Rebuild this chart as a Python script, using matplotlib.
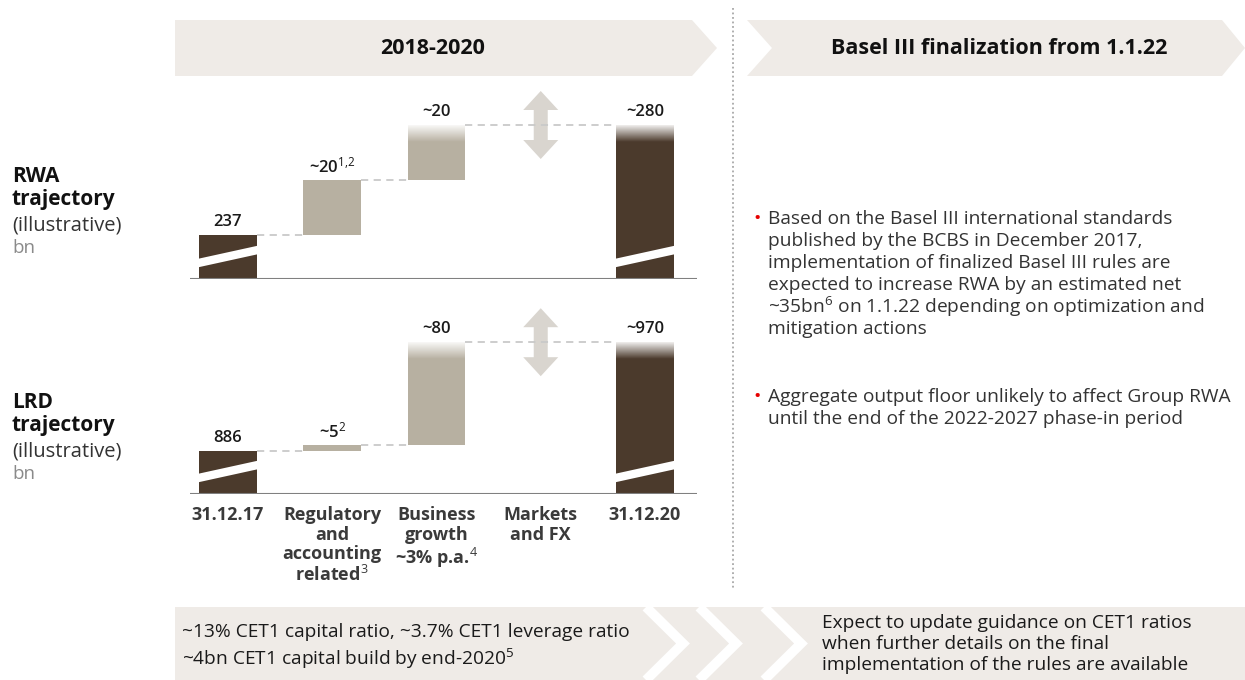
import matplotlib
matplotlib.use('Agg')
import matplotlib.pyplot as plt
import matplotlib.patches as mpatches
import matplotlib.transforms as mtransforms
import numpy as np

plt.rcParams['font.family'] = ['Open Sans', 'DejaVu Sans']
plt.rcParams['mathtext.fontset'] = 'custom'
plt.rcParams['mathtext.rm'] = 'Open Sans'
plt.rcParams['mathtext.it'] = 'Open Sans:italic'
plt.rcParams['mathtext.bf'] = 'Open Sans:bold'

# data
categories = ['31.12.17', 'Regulatory\nand\naccounting\nrelated$^{3}$',
              'Business\ngrowth\n~3% p.a.$^{4}$', 'Markets\nand FX', '31.12.20']
rwa_start = 237
rwa_steps = [20, 20]
rwa_labels = ['237', '~20$^{1{,}2}$', '~20', '~280']
lrd_start = 886
lrd_steps = [5, 80]
lrd_labels = ['886', '~5$^{2}$', '~80', '~970']

bullets = [
    ['Based on the Basel III international standards',
     'published by the BCBS in December 2017,',
     'implementation of finalized Basel III rules are',
     'expected to increase RWA by an estimated net',
     '~35bn$^{6}$ on 1.1.22 depending on optimization and',
     'mitigation actions'],
    ['Aggregate output floor unlikely to affect Group RWA',
     'until the end of the 2022-2027 phase-in period'],
]
bottom_left = ['~13% CET1 capital ratio, ~3.7% CET1 leverage ratio',
               '~4bn CET1 capital build by end-2020$^{5}$']
bottom_right = ['Expect to update guidance on CET1 ratios',
                'when further details on the final',
                'implementation of the rules are available']

DARK = '#4b3a2c'
TAUPE = '#b7b0a1'
BAND = '#efebe7'
W, H = 1245, 680

fig = plt.figure(figsize=(W / 100, H / 100), dpi=100)

# background axes in pixel coordinates
bg = fig.add_axes([0, 0, 1, 1])
bg.set_xlim(0, W)
bg.set_ylim(H, 0)
bg.axis('off')

# header chevrons
bg.add_patch(mpatches.Polygon([[175, 20], [692, 20], [717, 48], [692, 76], [175, 76]],
                              closed=True, color=BAND, lw=0))
bg.add_patch(mpatches.Polygon([[747, 20], [1222, 20], [1245, 48], [1222, 76], [747, 76], [772, 48]],
                              closed=True, color=BAND, lw=0))
bg.text(433, 48, '2018-2020', ha='center', va='center', fontsize=15.5, fontweight='bold', color='#111111')
bg.text(999, 48, 'Basel III finalization from 1.1.22', ha='center', va='center',
        fontsize=15.5, fontweight='bold', color='#111111')

# separator
bg.plot([733, 733], [8, 588], color='#a8a8a8', lw=1.3, ls=(0, (1, 1.5)))

# bottom band with chevrons
bg.add_patch(mpatches.Rectangle((175, 607), W - 175, H - 607, color=BAND, lw=0))
for tip in [683, 736, 801]:
    bg.plot([tip - 37, tip, tip - 37], [607, 643.5, 680], color='white', lw=7,
            solid_joinstyle='miter', solid_capstyle='butt')
for i, line in enumerate(bottom_left):
    bg.text(182, 632 + 27 * i, line, ha='left', va='center', fontsize=13.8, color='#1a1a1a')
for i, line in enumerate(bottom_right):
    bg.text(822, 623 + 21 * i, line, ha='left', va='center', fontsize=13.8, color='#1a1a1a')

# left row titles
for top, name in [(177, 'RWA'), (403, 'LRD')]:
    bg.text(12, top, name, ha='left', va='center', fontsize=15, fontweight='bold', color='#111111')
    bg.text(12, top + 23, 'trajectory', ha='left', va='center', fontsize=15, fontweight='bold', color='#111111')
    bg.text(12, top + 48, '(illustrative)', ha='left', va='center', fontsize=14.5, color='#333333')
    bg.text(12, top + 71, 'bn', ha='left', va='center', fontsize=13.5, color='#8a8a8a')

# bullets on the right
ys = [219, 397]
for block, y0 in zip(bullets, ys):
    bg.text(753, y0, '\u2022', ha='left', va='center', fontsize=14, color='#e60000')
    for j, line in enumerate(block):
        bg.text(768, y0 + 22 * j, line, ha='left', va='center', fontsize=13.8, color='#333333')


def px_axes(left, top, right, bottom):
    a = fig.add_axes([left / W, 1 - bottom / H, (right - left) / W, (bottom - top) / H])
    a.patch.set_alpha(0)
    for s in a.spines.values():
        s.set_visible(False)
    return a


def fade(ax, x, top, w, h):
    grad = np.ones((60, 1, 4))
    grad[:, 0, 3] = np.linspace(0.92, 0, 60)
    ax.imshow(grad, extent=(x - w / 2, x + w / 2, top - h, top), origin='upper',
              aspect='auto', zorder=3, interpolation='bilinear')


def waterfall(ax, start, steps, labels, scale, floor, ax_h):
    bw = 0.556
    ax.set_xlim(-0.3645, 4.499)
    ax.set_ylim(floor, floor + ax_h / scale)
    bars = [ax.bar(0, start - floor, bw, bottom=floor, color=DARK, zorder=2)[0]]
    tops = [start]
    level = start
    for i, s in enumerate(steps):
        ax.plot([i + bw / 2, i + 1 - bw / 2], [level, level], color='#c9c9c9', lw=1.3,
                ls=(0, (4, 3)), zorder=4)
        ax.bar(i + 1, s, bw, bottom=level, color=TAUPE, zorder=2)
        level += s
        tops.append(level)
    last = len(steps)
    ax.plot([last + bw / 2, 4 - bw / 2], [level, level], color='#c9c9c9', lw=1.3,
            ls=(0, (4, 3)), zorder=4)
    bars.append(ax.bar(4, level - floor, bw, bottom=floor, color=DARK, zorder=2)[0])
    tops.append(level)

    # fading tops
    fade(ax, last, level, bw, 17 / scale)
    fade(ax, 4, level, bw, 17 / scale)

    # axis break slashes
    for b in bars:
        xl, xr = b.get_x(), b.get_x() + bw
        ln, = ax.plot([xl - 0.05, xr + 0.05], [floor + 15 / scale, floor + 30 / scale],
                      color='white', lw=6, solid_capstyle='butt', zorder=3)
        ln.set_clip_path(b)

    # double arrow for markets and FX
    tr = fig.dpi_scale_trans + mtransforms.ScaledTranslation(3, level, ax.transData)
    hh, hw, hl, sw = 0.34, 0.175, 0.19, 0.07
    verts = [[0, hh], [hw, hh - hl], [sw, hh - hl], [sw, -hh + hl], [hw, -hh + hl], [0, -hh],
             [-hw, -hh + hl], [-sw, -hh + hl], [-sw, hh - hl], [-hw, hh - hl]]
    ax.add_patch(mpatches.Polygon(verts, closed=True, color='#d9d5cf', lw=0,
                                  transform=tr, zorder=1))

    # value labels
    for x, t, lab in zip([0] + [i + 1 for i in range(len(steps))] + [4], tops, labels):
        ax.annotate(lab, (x, t), xytext=(0, 9.5), textcoords='offset points',
                    ha='center', va='center', fontsize=12, fontweight='semibold',
                    color='#1a1a1a', zorder=5)

    ax.axhline(floor, color='#808080', lw=1.5, zorder=3)
    ax.set_yticks([])
    ax.set_xticks([])


ax1 = px_axes(190, 85, 697, 279)
waterfall(ax1, rwa_start, rwa_steps, rwa_labels, 2.75, rwa_start - 44 / 2.75, 194)

ax2 = px_axes(190, 300, 697, 494)
waterfall(ax2, lrd_start, lrd_steps, lrd_labels, 1.28, lrd_start - 43 / 1.28, 194)
ax2.set_xticks(range(len(categories)))
ax2.set_xticklabels(categories, fontsize=13, fontweight='bold', color='#3a3a3a',
                    linespacing=1.1)
ax2.tick_params(axis='x', length=0, pad=9)

fig.savefig('out.png', dpi=100)
